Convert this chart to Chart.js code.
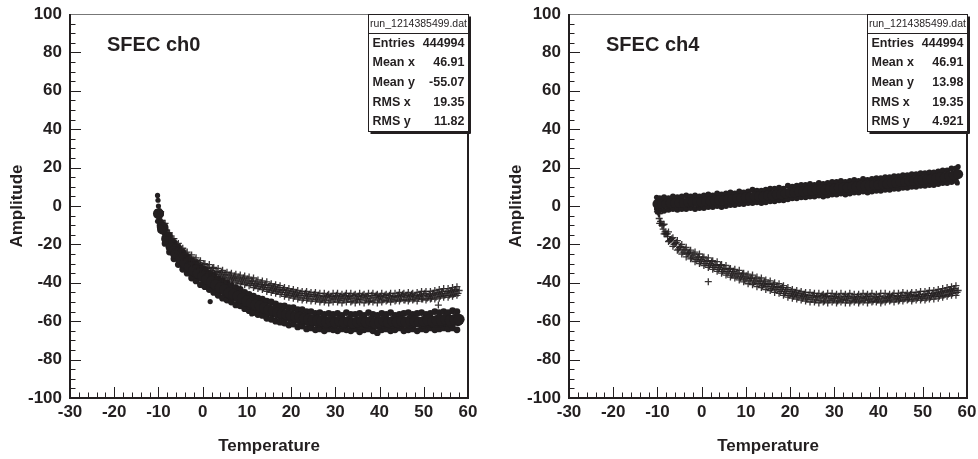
<!DOCTYPE html>
<html><head><meta charset="utf-8">
<script src="https://cdn.jsdelivr.net/npm/chart.js@4.4.1/dist/chart.umd.min.js"></script>
<style>
html,body{margin:0;padding:0;background:#fff;overflow:hidden;width:978px;height:459px;}
.wrap{position:absolute;top:0;height:459px;}
canvas{display:block;}
</style></head><body>
<div class="wrap" style="left:0;width:489px"><canvas id="c0" width="489" height="459"></canvas></div>
<div class="wrap" style="left:499px;width:479px"><canvas id="c4" width="479" height="459"></canvas></div>
<script>
// ---------- data ----------
const xTickValues = [-30, -20, -10, 0, 10, 20, 30, 40, 50, 60];
const yTickValues = [-100, -80, -60, -40, -20, 0, 20, 40, 60, 80, 100];
const statLabels = ['Entries', 'Mean x', 'Mean y', 'RMS x', 'RMS y'];
const ch0Stats = ['444994', '46.91', '-55.07', '19.35', '11.82'];
const ch4Stats = ['444994', '46.91', '13.98', '19.35', '4.921'];
const fileName = 'run_1214385499.dat';

// temperatures of the band samples
const tempA = [-10,-9,-8,-7,-6,-5,-4,-3,-2,-1,
  0,1,2,3,4,5,6,7,8,9,
  10,11,12,13,14,15,16,17,18,19,
  20,21,22,23,24,25,26,27,28,29,
  30,31,32,33,34,35,36,37,38,39,
  40,41,42,43,44,45,46,47,48,49,
  50,51,52,53,54,55,56,57,58];
const tempB = [-9.5,-8.5,-7.5,-6.5,-5.5,-4.5,-3.5,-2.5,-1.5,-0.5,
  0.5,1.5,2.5,3.5,4.5,5.5,6.5,7.5,8.5,9.5,
  10.5,11.5,12.5,13.5,14.5,15.5,16.5,17.5,18.5,19.5,
  20.5,21.5,22.5,23.5,24.5,25.5,26.5,27.5,28.5,29.5,
  30.5,31.5,32.5,33.5,34.5,35.5,36.5,37.5,38.5,39.5,
  40.5,41.5,42.5,43.5,44.5,45.5,46.5,47.5,48.5,49.5,
  50.5,51.5,52.5,53.5,54.5,55.5,56.5,57.5];
const tempC = [-9.75,-8.75,-7.75,-6.75,-5.75,-4.75,-3.75,-2.75,-1.75,-0.75,
  0.25,1.25,2.25,3.25,4.25,5.25,6.25,7.25,8.25,9.25,
  10.25,11.25,12.25,13.25,14.25,15.25,16.25,17.25,18.25,19.25,
  20.25,21.25,22.25,23.25,24.25,25.25,26.25,27.25,28.25,29.25,
  30.25,31.25,32.25,33.25,34.25,35.25,36.25,37.25,38.25,39.25,
  40.25,41.25,42.25,43.25,44.25,45.25,46.25,47.25,48.25,49.25,
  50.25,51.25,52.25,53.25,54.25,55.25,56.25,57.25];
const tempD = [-9.25,-8.25,-7.25,-6.25,-5.25,-4.25,-3.25,-2.25,-1.25,-0.25,
  0.75,1.75,2.75,3.75,4.75,5.75,6.75,7.75,8.75,9.75,
  10.75,11.75,12.75,13.75,14.75,15.75,16.75,17.75,18.75,19.75,
  20.75,21.75,22.75,23.75,24.75,25.75,26.75,27.75,28.75,29.75,
  30.75,31.75,32.75,33.75,34.75,35.75,36.75,37.75,38.75,39.75,
  40.75,41.75,42.75,43.75,44.75,45.75,46.75,47.75,48.75,49.75,
  50.75,51.75,52.75,53.75,54.75,55.75,56.75,57.75];

// SFEC ch0 - filled circles
const ch0DotCore = [-4,-12,-17.5,-21.5,-24.5,-27,-29.5,-31.5,-33.5,-35,
  -36.5,-38,-39.5,-41,-42.5,-43.5,-45,-46,-47,-48,
  -49.5,-50.5,-51.5,-52,-53,-54,-54.5,-55.5,-56,-56.5,
  -57,-57.5,-58,-58.5,-59,-59.5,-59.5,-60,-60.5,-60,
  -60.5,-60,-60.5,-60,-61,-60.5,-60,-60.5,-60,-61,
  -60.5,-60,-60.5,-60,-60.5,-60,-60.5,-59.5,-60,-60.5,
  -60,-59.5,-60,-59.5,-59.5,-59,-59.5,-59,-59];
const ch0DotMid = [-11,-17,-21.5,-25,-27,-30,-32,-34,-35.5,-37,
  -38.5,-40,-41.5,-43,-44,-45.5,-47,-47.5,-49,-50,
  -51.5,-52,-53,-53.5,-55,-55.5,-56,-57,-57.5,-58,
  -58.5,-59,-59.5,-60,-60,-60.5,-61,-61.5,-61,-61.5,
  -61,-61.5,-60.5,-61.5,-61,-62,-61,-61.5,-61,-62,
  -61.5,-61,-61.5,-60.5,-61.5,-61,-61.5,-61,-60.5,-61.5,
  -61,-60.5,-61,-60.5,-60,-60.5,-60,-60];
const ch0DotUp = [-4,-11,-15.5,-19,-21.5,-24,-26.5,-28.5,-30,-32,
  -33,-35,-36,-38,-39,-40,-41.5,-42.5,-43.5,-45,
  -46,-47,-48,-48.5,-49.5,-50,-51,-52,-52,-53,
  -53,-54,-54,-55,-55,-56,-55.5,-56.5,-56,-56.5,
  -56,-57,-55.5,-56.5,-56.5,-56,-57,-55.5,-56.5,-57,
  -56,-56.5,-55.5,-57,-56.5,-56,-55.5,-56.5,-56,-55.5,
  -56.5,-56,-55,-55.5,-55,-55.5,-54.5,-55];
const ch0DotLow = [-12.5,-19.5,-24,-27.5,-30.5,-33,-35,-37.5,-39,-41,
  -42,-43.5,-45,-46.5,-48,-49,-50,-51.5,-52,-53.5,
  -54.5,-55.5,-56.5,-57,-58.5,-59,-60,-60.5,-61,-62,
  -61.5,-63,-62.5,-64,-63.5,-64.5,-64,-65,-64,-64.5,
  -65,-64,-64.5,-65,-64,-65.5,-64.5,-64,-65,-66,
  -64.5,-64,-65,-64.5,-63.5,-65,-64.5,-64,-65,-64,
  -64.5,-63.5,-64.5,-64,-63.5,-64,-63.5,-64.5];
const ch0DotExtraX = [-10.2,-10.1,-10.0,-10.1,-9.9,-10.2,-9.8,-9.5,-9.2,-8.7,-8.5,1.7,11.1];
const ch0DotExtraY = [5.5,3,0,-3,-6,-8,-10,-8,-10,-14,-15,-49.8,-56.2];

// SFEC ch0 - crosses
const ch0CrossCore = [-2,-9,-14,-17.5,-20.5,-23,-25,-27,-28.5,-30,
  -31.5,-32.5,-33.5,-34.5,-35.5,-36,-37,-37.5,-38,-38.5,
  -39,-39.5,-40.5,-41,-41.5,-42.5,-43,-43.5,-44,-45,
  -45.5,-46,-46.5,-46.5,-47,-47,-47.5,-48,-47.5,-48,
  -47.5,-48,-48,-47.5,-48,-48.5,-47.5,-48,-48,-47.5,
  -48,-47.5,-48,-47.5,-47.5,-47,-47.5,-47,-47.5,-47,
  -46.5,-47,-46.5,-46,-45.5,-45.5,-45,-44.5,-44];
const ch0CrossUp = [-3,-9,-14,-17,-19.5,-22,-24,-25.5,-27,-28.5,
  -30,-30.5,-32,-32.5,-33.5,-34.5,-35,-35.5,-36,-36.5,
  -37,-37.5,-38.5,-39,-39.5,-40.5,-41,-41.5,-42.5,-43,
  -43.5,-44,-44.5,-44.5,-45,-45,-45.5,-45.5,-46,-45.5,
  -45.5,-46,-45.5,-45.5,-46,-45.5,-46,-45.5,-45.5,-46,
  -45.5,-46,-45.5,-45.5,-45,-45.5,-45,-45.5,-45,-44.5,
  -44.5,-44.5,-44,-43.5,-43,-43,-42.5,-42];
const ch0CrossLow = [-8,-14,-18,-21.5,-24.5,-26.5,-28,-30,-31.5,-33,
  -34.5,-35,-36.5,-37,-38,-39,-39.5,-40,-40.5,-41,
  -41.5,-42.5,-43,-43.5,-44.5,-45,-45.5,-46,-47,-47.5,
  -48,-48.5,-49,-49,-49.5,-49.5,-50,-50,-50.5,-50,
  -50,-50.5,-50,-50,-50.5,-50,-50.5,-50,-50,-50.5,
  -50,-49.5,-50,-49.5,-49.5,-49,-49.5,-49,-49.5,-48.5,
  -49,-48.5,-48.5,-48,-47.5,-47.5,-47,-46.5];
const ch0CrossHi = [-2.5,-9.5,-14,-17,-20,-22.5,-24.5,-26.5,-28,-29.5,
  -30.5,-32,-32.5,-34,-34.5,-35.5,-36,-36.5,-37,-37.5,
  -38,-39,-39.5,-40,-41,-41.5,-42,-42.5,-43.5,-44,
  -44.5,-45,-45.5,-45.5,-46,-46,-46.5,-47,-46.5,-47,
  -46.5,-47,-46.5,-47,-46.5,-47,-46.5,-47,-46.5,-46.5,
  -47,-46.5,-46.5,-47,-46.5,-46,-46.5,-46,-46.5,-46,
  -45.5,-46,-45.5,-45,-44.5,-44.5,-44,-43.5];
const ch0CrossLo = [-8.5,-14,-18,-21,-23.5,-26,-27.5,-29.5,-31,-32,
  -33.5,-34.5,-35.5,-36.5,-37,-38,-38.5,-39,-39.5,-40,
  -40.5,-41.5,-42,-42.5,-43.5,-44,-44.5,-45,-46,-46.5,
  -47,-47.5,-48,-48,-48.5,-48.5,-49,-49,-49,-48.5,
  -49,-49,-48.5,-49.5,-49,-48.5,-49,-49.5,-49,-48.5,
  -49,-49,-48.5,-49,-48.5,-49,-48.5,-48.5,-48,-48.5,
  -48,-48,-47.5,-47,-46.5,-46.5,-46,-45.5];
const ch0CrossExtraX = [-9.7,-9.3,-8.6,-8.3,53.3];
const ch0CrossExtraY = [-5,-7.5,-11.5,-12.5,-51.6];

// SFEC ch4 - filled circles
const ch4DotCore = [1,1,1,1.5,1.5,1.5,1.5,2,2,2,
  2,2.5,2.5,3,3,3,3.5,3.5,4,4,
  4.5,4.5,5,5,5,5.5,5.5,6,6,6.5,
  7,7,7.5,7.5,8,8,8.5,8.5,8.5,9,
  9,9.5,9.5,9.5,10,10,10.5,10.5,10.5,11,
  11,11.5,11.5,12,12,12.5,12.5,13,13,13.5,
  13.5,14,14,14.5,15,15,15.5,16,16.5];
const ch4DotUp = [4,4.5,4,5,4.5,5,5.5,5,5.5,5,
  5.5,6,5.5,6.5,6,6.5,7,6.5,7.5,7,
  7.5,8.5,8,8,8.5,9,9,9.5,9,10.5,
  10,10.5,11,11,11.5,11,12,11.5,12,12.5,
  12.5,13,12.5,13,13.5,13,14,13.5,14,14.5,
  14.5,15,15,15.5,15.5,16,16,16.5,16.5,17,
  17,17.5,17.5,18,18.5,18.5,19.5,19.5];
const ch4DotLow = [-2,-2.5,-2,-1.5,-2,-1.5,-1.5,-1,-1.5,-1,
  -1,-0.5,-0.5,0,-0.5,0,0.5,0.5,1,1,
  1.5,1.5,2,1.5,2,2.5,2.5,3,3,3.5,
  4,4,4.5,4.5,5,5,5.5,5,5.5,6,
  6,6.5,6,6.5,7,7,7.5,7,7.5,8,
  8,8.5,8.5,9,9,9.5,9.5,10,10,10.5,
  10.5,11,11,11.5,12,12,12.5,13];
const ch4DotExtraX = [-10.2,-10.1,-10.2,-9.9,58,57.8];
const ch4DotExtraY = [4.5,2.5,-1.5,-3,20.5,12];

// SFEC ch4 - crosses
const ch4CrossCore = [-3,-10,-14.5,-17.5,-19.5,-21.5,-23,-24.5,-26,-27,
  -28,-29,-30,-31,-32,-33,-34,-35,-35.5,-36.5,
  -37.5,-38,-39,-39.5,-40.5,-41,-42,-42.5,-43.5,-44.5,
  -45.5,-46,-46.5,-47,-47.5,-47.5,-47.5,-48,-47.5,-48,
  -48,-48,-48.5,-48,-48,-48.5,-48,-48,-48.5,-48,
  -48.5,-48,-48,-47.5,-48,-47.5,-47.5,-47.5,-47,-47,
  -47,-46.5,-46.5,-46,-45.5,-45,-44.5,-44,-44];
const ch4CrossUp = [-4,-9.5,-13.5,-16.5,-18,-20,-21.5,-23,-24,-25,
  -26.5,-27,-28.5,-29,-30.5,-31,-32.5,-33,-33.5,-35,
  -35.5,-36,-37,-37.5,-38.5,-39,-40,-40.5,-41.5,-42.5,
  -43.5,-44,-44.5,-45,-45,-45.5,-45.5,-46,-45.5,-45.5,
  -46,-45.5,-46,-45.5,-46,-46,-45.5,-46,-45.5,-46,
  -45.5,-45.5,-46,-45.5,-45.5,-45,-45.5,-45,-45,-44.5,
  -44.5,-44,-44,-43.5,-43,-42.5,-42,-41.5];
const ch4CrossLow = [-9,-14.5,-18.5,-21,-23,-25,-26.5,-27.5,-29,-30,
  -31,-32,-33,-34,-35,-36,-37,-37.5,-38.5,-39.5,
  -40.5,-41,-42,-42.5,-43.5,-44,-45,-45.5,-46.5,-47.5,
  -48,-48.5,-49,-49.5,-50,-50,-50.5,-50,-50.5,-50,
  -50.5,-50,-50.5,-50.5,-50,-50.5,-50,-50.5,-50,-50,
  -50.5,-50,-49.5,-50,-49.5,-49.5,-49,-49.5,-49,-49,
  -49,-48.5,-48.5,-48,-47.5,-47,-46.5,-46.5];
const ch4CrossHi = [-4,-10,-14.5,-17,-19,-21,-22.5,-24,-25,-26.5,
  -27,-28.5,-29,-30.5,-31,-32.5,-33,-34,-35,-35.5,
  -36.5,-37.5,-38,-39,-39.5,-40.5,-41,-42,-42.5,-43.5,
  -44.5,-45,-45.5,-46,-46.5,-46.5,-47,-46.5,-47,-47,
  -47,-47.5,-47,-47,-47.5,-47,-47.5,-47,-47,-47.5,
  -47,-47.5,-47,-46.5,-47,-46.5,-46.5,-46,-46.5,-46,
  -46,-45.5,-45.5,-45,-44.5,-44,-43.5,-43];
const ch4CrossLo = [-9,-14.5,-18,-20,-22.5,-24,-25,-27,-28,-29,
  -30,-31,-32,-33,-34,-35,-36,-36.5,-37.5,-38.5,
  -39,-40,-40.5,-41.5,-42,-43,-43.5,-44.5,-45.5,-46.5,
  -47,-47.5,-48,-48.5,-48.5,-49,-49,-49.5,-49,-49,
  -49.5,-49,-49,-49.5,-49,-49.5,-49,-49,-49.5,-49,
  -49.5,-49,-49,-48.5,-49,-48.5,-48.5,-48.5,-48,-48,
  -48,-47.5,-47,-47,-46.5,-46,-45.5,-45];
const ch4CrossExtraX = [-9.8,-9.6,-9.3,-8.7,-8.3,-7.7,1.5];
const ch4CrossExtraY = [-3.5,-6.5,-8,-12,-13.5,-16,-39.4];

// ---------- drawing ----------
const INK = '#231f20';
const FONT = "'Liberation Sans', Arial, Helvetica, sans-serif";

function pts(xs, ys) { return xs.map((x, i) => ({ x: x, y: ys[i] })); }
function dotSet(data, r) {
  return { data: data, showLine: false, order: 2, pointStyle: 'circle', pointRadius: r,
    pointBackgroundColor: INK, pointBorderWidth: 0, pointHoverRadius: r };
}
function crossSet(data) {
  return { data: data, showLine: false, order: 1, pointStyle: 'cross', pointRadius: 3.5,
    pointBorderColor: 'rgba(35,31,32,0.9)', pointBorderWidth: 1.3, pointHoverRadius: 3.5 };
}

const rootFrame = {
  id: 'rootFrame',
  afterDatasetsDraw(chart, args, opts) {
    const ctx = chart.ctx, a = chart.chartArea, x = chart.scales.x, y = chart.scales.y;
    ctx.save();
    // ticks inside the frame
    ctx.strokeStyle = INK; ctx.lineWidth = 1;
    ctx.beginPath();
    for (let v = -30; v <= 60; v += 2) {
      const px = Math.round(x.getPixelForValue(v)) + 0.5;
      const len = (v % 10 === 0) ? 11 : 5.5;
      ctx.moveTo(px, a.bottom); ctx.lineTo(px, a.bottom - len);
    }
    for (let v = -100; v <= 100; v += 5) {
      const py = Math.round(y.getPixelForValue(v)) + 0.5;
      const len = (v % 20 === 0) ? 11 : 5.5;
      ctx.moveTo(a.left, py); ctx.lineTo(a.left + len, py);
    }
    ctx.stroke();
    // frame
    ctx.fillStyle = '#777';
    ctx.fillRect(a.left, a.top, a.right - a.left, 1);
    ctx.fillStyle = INK;
    ctx.fillRect(a.left - 1, a.top, 2, a.bottom - a.top + 1);
    ctx.fillRect(a.left - 1, a.bottom - 1, a.right - a.left + 2, 2);
    ctx.fillRect(a.right - 1, a.top, 2, a.bottom - a.top + 1);
    // title
    ctx.fillStyle = INK;
    ctx.font = 'bold 20px ' + FONT;
    ctx.textBaseline = 'middle'; ctx.textAlign = 'left';
    ctx.fillText(opts.title, a.left + 37, a.top + 31);
    // stats box
    const bw = 100, bh = 117, hh = 19;
    const bx = a.right - bw + 0.5, by = a.top + 0.5;
    ctx.fillStyle = '#fff';
    ctx.fillRect(bx, by, bw, bh);
    ctx.fillStyle = INK;
    ctx.fillRect(bx + bw, by + 2, 2.5, bh);
    ctx.fillRect(bx + 2, by + bh, bw, 2.5);
    ctx.strokeStyle = INK; ctx.lineWidth = 1;
    ctx.strokeRect(bx, by, bw, bh);
    ctx.beginPath(); ctx.moveTo(bx, by + hh); ctx.lineTo(bx + bw, by + hh); ctx.stroke();
    ctx.font = '10.5px ' + FONT; ctx.textAlign = 'center';
    ctx.fillText(fileName, bx + bw / 2, by + hh / 2 + 0.5);
    ctx.font = 'bold 12.5px ' + FONT;
    const rh = (bh - hh) / 5;
    for (let i = 0; i < statLabels.length; i++) {
      const cy = by + hh + rh * (i + 0.5);
      ctx.textAlign = 'left'; ctx.fillText(statLabels[i], bx + 4, cy);
      ctx.textAlign = 'right'; ctx.fillText(opts.stats[i], bx + bw - 4, cy);
    }
    ctx.restore();
  }
};

function makeChart(id, title, stats, sets, canvasW) {
  const tickFont = { family: FONT, size: 17, weight: 'bold' };
  return new Chart(document.getElementById(id), {
    type: 'scatter',
    data: { datasets: sets },
    options: {
      responsive: false, animation: false, devicePixelRatio: 1,
      events: [],
      layout: { padding: { left: 0, right: canvasW - 468, top: 14, bottom: 0 } },
      plugins: { legend: { display: false }, tooltip: { enabled: false },
        rootFrame: { title: title, stats: stats } },
      scales: {
        x: { type: 'linear', min: -30, max: 60,
          afterBuildTicks: s => { s.ticks = xTickValues.map(v => ({ value: v })); },
          afterFit: s => { s.height = 61; s.paddingLeft = 0; s.paddingRight = 0; },
          grid: { display: false, drawTicks: false }, border: { display: false },
          ticks: { color: INK, font: tickFont, padding: 4, maxRotation: 0, autoSkip: false },
          title: { display: true, text: 'Temperature', color: INK, font: tickFont, padding: { top: 0, bottom: 2 } } },
        y: { type: 'linear', min: -100, max: 100,
          afterBuildTicks: s => { s.ticks = yTickValues.map(v => ({ value: v })); },
          afterFit: s => { s.width = 70; s.paddingTop = 0; s.paddingBottom = 0; },
          grid: { display: false, drawTicks: false }, border: { display: false },
          ticks: { color: INK, font: tickFont, padding: 8, autoSkip: false },
          title: { display: true, text: 'Amplitude', color: INK, font: tickFont, padding: { top: 7, bottom: 0 } } }
      }
    },
    plugins: [rootFrame]
  });
}

makeChart('c0', 'SFEC ch0', ch0Stats, [
  crossSet(pts(tempA, ch0CrossCore)),
  crossSet(pts(tempB, ch0CrossUp)),
  crossSet(pts(tempB, ch0CrossLow)),
  crossSet(pts(tempC, ch0CrossHi)),
  crossSet(pts(tempD, ch0CrossLo)),
  crossSet(pts(ch0CrossExtraX, ch0CrossExtraY)),
  dotSet(pts(tempA, ch0DotCore), 5.5),
  dotSet(pts(tempD, ch0DotMid), 5),
  dotSet(pts(tempB, ch0DotUp), 3.4),
  dotSet(pts(tempB, ch0DotLow), 3.4),
  dotSet(pts(ch0DotExtraX, ch0DotExtraY), 2.6)
], 489);

makeChart('c4', 'SFEC ch4', ch4Stats, [
  crossSet(pts(tempA, ch4CrossCore)),
  crossSet(pts(tempB, ch4CrossUp)),
  crossSet(pts(tempB, ch4CrossLow)),
  crossSet(pts(tempC, ch4CrossHi)),
  crossSet(pts(tempD, ch4CrossLo)),
  crossSet(pts(ch4CrossExtraX, ch4CrossExtraY)),
  dotSet(pts(tempA, ch4DotCore), 5),
  dotSet(pts(tempB, ch4DotUp), 3),
  dotSet(pts(tempB, ch4DotLow), 3),
  dotSet(pts(ch4DotExtraX, ch4DotExtraY), 2.6)
], 479);
</script></body></html>
